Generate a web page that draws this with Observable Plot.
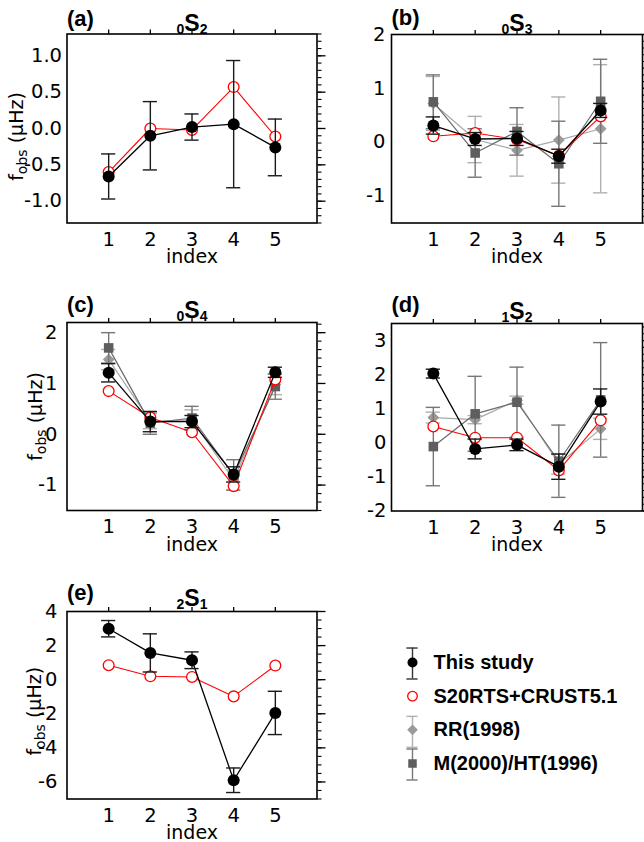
<!DOCTYPE html>
<html><head><meta charset="utf-8">
<script src="https://cdn.jsdelivr.net/npm/d3@7"></script>
<script src="https://cdn.jsdelivr.net/npm/@observablehq/plot@0.6"></script>
<style>
body{margin:0;background:#fff;}
#wrap{position:relative;width:644px;height:842px;overflow:hidden;background:#fff;}
#wrap svg{position:absolute;overflow:visible;background:transparent;}
</style></head><body><div id="wrap"></div>
<script>
// ---------- data ----------
const indexTicks = [1, 2, 3, 4, 5];
const seriesNames = ["This study", "S20RTS+CRUST5.1", "RR(1998)", "M(2000)/HT(1996)"];

// (a) 0S2
const aThis = [-0.66, -0.10, 0.02, 0.06, -0.26];
const aThisErr = [0.31, 0.47, 0.18, 0.875, 0.39];
const aS20 = [-0.60, 0.00, -0.02, 0.57, -0.11];
const aYTicks = [-1, -0.5, 0, 0.5, 1];

// (b) 0S3
const bThis = [0.31, 0.06, 0.07, -0.26, 0.59];
const bThisErr = [0.16, 0.12, 0.13, 0.13, 0.13];
const bS20 = [0.11, 0.17, 0.05, -0.25, 0.48];
const bRR = [0.72, 0.05, -0.15, 0.04, 0.25];
const bRRErr = [0.50, 0.43, 0.48, 0.80, 1.19];
const bM = [0.75, -0.20, 0.20, -0.40, 0.76];
const bMErr = [0.50, 0.45, 0.44, 0.79, 0.78];
const bYTicks = [-1, 0, 1, 2];

// (c) 0S4
const cThis = [1.21, 0.25, 0.25, -0.79, 1.22];
const cThisErr = [0.18, 0.20, 0.12, 0.15, 0.10];
const cS20 = [0.85, 0.33, 0.04, -1.02, 1.08];
const cRR = [1.47, 0.26, 0.28, -0.90, 0.98];
const cRRErr = [0.20, 0.15, 0.20, 0.20, 0.20];
const cM = [1.70, 0.22, 0.32, -0.80, 0.94];
const cMErr = [0.30, 0.22, 0.23, 0.30, 0.25];
const cYTicks = [-1, 0, 1, 2];

// (d) 1S2
const dThis = [2.03, -0.18, -0.06, -0.70, 1.21];
const dThisErr = [0.13, 0.29, 0.17, 0.37, 0.37];
const dS20 = [0.48, 0.15, 0.15, -0.81, 0.66];
const dRR = [0.74, 0.68, 1.25, -0.62, 0.41];
const dRRErr = [0.16, 0.12, 0.12, 0.30, 0.31];
const dM = [-0.11, 0.85, 1.19, -0.54, 1.26];
const dMErr = [1.15, 1.10, 1.03, 1.06, 1.68];
const dYTicks = [-2, -1, 0, 1, 2, 3];

// (e) 2S1
const eThis = [2.99, 1.57, 1.14, -5.90, -1.95];
const eThisErr = [0.48, 1.12, 0.49, 0.72, 1.27];
const eS20 = [0.85, 0.20, 0.16, -0.98, 0.83];
const eYTicks = [-6, -4, -2, 0, 2, 4];

// ---------- styles ----------
const ST = {
  this: {line: "#000", lw: 1.3, bar: "#1a1a1a", symbol: "circle", r: 6, fill: "#000"},
  s20:  {line: "#f00", lw: 1.1, symbol: "circle", r: 5.4, fill: "#fff", stroke: "#f00", sw: 1.3},
  rr:   {line: "#a8a8a8", lw: 1.2, bar: "#b0b0b0", symbol: "diamond2", r: 5.3, fill: "#9a9a9a"},
  m:    {line: "#6a6a6a", lw: 1.2, bar: "#777", symbol: "square", r: 5.4, fill: "#5e5e5e"}
};

const W = 322, H = 289;
const FONT_REG = "'DejaVu Sans', sans-serif";
const FONT_BOLD = "'Liberation Sans', Arial, sans-serif";
const intFmt = d => String(d);
const panels = [
  {label: "(a)", title: ["0", "S", "2"], left: 0, top: 0, frame: [66.5, 33.5, 316.5, 222.5],
   yDomain: [-1.3, 1.3], yTicks: aYTicks, yMinor: d3.range(-13, 14).map(v => v / 10), fmt: d => d.toFixed(1), pad: 5,
   ylab: {dx: -50, dy: 8}, lab: -8.5, tit: -3.5,
   series: [["s20", aS20], ["this", aThis, aThisErr]]},
  {label: "(b)", title: ["0", "S", "3"], left: 322, top: 0, frame: [391, 34, 642, 222.5],
   yDomain: [-1.5, 2], yTicks: bYTicks, yMinor: d3.range(-12, 17).map(v => v / 8), fmt: intFmt, pad: 6,
   ylab: null, lab: -10, tit: -4,
   series: [["rr", bRR, bRRErr], ["m", bM, bMErr], ["s20", bS20], ["this", bThis, bThisErr]]},
  {label: "(c)", title: ["0", "S", "4"], left: 0, top: 289, frame: [66.5, 322, 316.5, 510],
   yDomain: [-1.5, 2.2], yTicks: cYTicks, yMinor: d3.range(-9, 14).map(v => v / 6), fmt: intFmt, pad: 9.5,
   ylab: {dx: -31.5, dy: 0}, lab: -11, tit: -5,
   series: [["rr", cRR, cRRErr], ["m", cM, cMErr], ["s20", cS20], ["this", cThis, cThisErr]]},
  {label: "(d)", title: ["1", "S", "2"], left: 322, top: 289, frame: [391, 323, 642, 510.5],
   yDomain: [-2, 3.5], yTicks: dYTicks, yMinor: d3.range(-10, 18).map(v => v / 5), fmt: intFmt, pad: 5,
   ylab: null, lab: -12, tit: -5,
   series: [["rr", dRR, dRRErr], ["m", dM, dMErr], ["s20", dS20], ["this", dThis, dThisErr]]},
  {label: "(e)", title: ["2", "S", "1"], left: 0, top: 578, frame: [66.5, 611, 316.5, 798.5],
   yDomain: [-7, 4], yTicks: eYTicks, yMinor: d3.range(-14, 9).map(v => v / 2), fmt: intFmt, pad: 9.5,
   ylab: {dx: -32, dy: 6}, lab: -12, tit: -6,
   series: [["s20", eS20], ["this", eThis, eThisErr]]}
];

function seriesMarks(key, vals, errs) {
  const st = ST[key];
  const d = indexTicks.map((x, k) => ({x, y: vals[k], e: errs ? errs[k] : 0}));
  const m = [];
  m.push(Plot.line(d, {x: "x", y: "y", stroke: st.line, strokeWidth: st.lw}));
  if (errs) {
    m.push(Plot.ruleX(d, {x: "x", y1: r => r.y - r.e, y2: r => r.y + r.e, stroke: st.bar, strokeWidth: 1.4}));
    m.push(Plot.ruleY(d, {y: r => r.y - r.e, x1: r => r.x - 0.17, x2: r => r.x + 0.17, stroke: st.bar, strokeWidth: 1.4}));
    m.push(Plot.ruleY(d, {y: r => r.y + r.e, x1: r => r.x - 0.17, x2: r => r.x + 0.17, stroke: st.bar, strokeWidth: 1.4}));
  }
  const dopt = {x: "x", y: "y", symbol: st.symbol, r: st.r, fill: st.fill};
  if (st.stroke) { dopt.stroke = st.stroke; dopt.strokeWidth = st.sw; }
  m.push(Plot.dot(d, dopt));
  return m;
}

function setFont(sel, family, size, weight) {
  sel.style("font-family", family).style("font-size", size + "px").style("font-weight", weight || "normal");
}

const wrap = document.getElementById("wrap");
const YLAB = "fobs (µHz)";

for (const p of panels) {
  const [fx0, fy0, fx1, fy1] = p.frame;
  const marks = [];
  for (const [key, vals, errs] of p.series) marks.push(...seriesMarks(key, vals, errs));
  marks.push(Plot.frame({stroke: "#000", strokeWidth: 1.6}));
  marks.push(Plot.axisY(p.yMinor, {anchor: "right", tickSize: 4, tickFormat: () => "", label: null, strokeWidth: 1.1}));
  marks.push(Plot.axisY(p.yTicks, {anchor: "right", tickSize: 8, tickFormat: () => "", label: null, strokeWidth: 1.3}));
  marks.push(Plot.axisY(p.yTicks, {anchor: "left", tickSize: 0, tickPadding: p.pad, tickFormat: p.fmt, label: null}));
  marks.push(Plot.axisX(indexTicks, {anchor: "top", tickSize: 5, tickFormat: () => "", label: null, strokeWidth: 1.3}));
  marks.push(Plot.axisX(indexTicks, {anchor: "bottom", tickSize: 0, tickPadding: 9, label: null}));
  marks.push(Plot.text(["index"], {frameAnchor: "bottom", textAnchor: "middle", lineAnchor: "bottom", dy: 40}));
  marks.push(Plot.text([p.label], {frameAnchor: "top-left", textAnchor: "start", lineAnchor: "bottom", dy: p.lab}));
  marks.push(Plot.text([p.title.join("")], {frameAnchor: "top", textAnchor: "middle", lineAnchor: "bottom", dy: p.tit}));
  if (p.ylab) marks.push(Plot.text([YLAB], {frameAnchor: "left", textAnchor: "middle", lineAnchor: "middle", rotate: -90,
    dx: p.ylab.dx, dy: p.ylab.dy}));

  const svg = Plot.plot({
    width: W, height: H,
    marginLeft: fx0 - p.left, marginRight: p.left + W - fx1,
    marginTop: fy0 - p.top, marginBottom: p.top + H - fy1,
    x: {domain: [0, 6], label: null},
    y: {domain: p.yDomain, label: null},
    style: {background: "transparent", overflow: "visible"},
    marks
  });
  svg.style.position = "absolute";
  svg.style.left = p.left + "px";
  svg.style.top = p.top + "px";
  wrap.appendChild(svg);

  // fonts and subscripts, applied as inline styles
  d3.select(svg).selectAll("text").each(function () {
    const t = d3.select(this);
    const s = this.textContent;
    if (s === p.title.join("")) {
      setFont(t, FONT_BOLD, 23, "bold");
      t.text(null);
      t.append("tspan").style("font-size", "14px").attr("dy", 3).text(p.title[0]);
      t.append("tspan").attr("dy", -3).text(p.title[1]);
      t.append("tspan").style("font-size", "14px").attr("dy", 3).text(p.title[2]);
    } else if (s === YLAB) {
      setFont(t, FONT_REG, 19);
      t.text(null);
      t.append("tspan").text("f");
      t.append("tspan").style("font-size", "14px").attr("dy", 4).text("obs");
      t.append("tspan").attr("dy", -4).text(" (µHz)");
    } else if (s === p.label) {
      setFont(t, FONT_BOLD, 22, "bold");
    } else if (s === "index") {
      setFont(t, FONT_REG, 19);
    } else {
      setFont(t, FONT_REG, 19.5);
    }
  });
}

// ---------- legend ----------
const legendKeys = ["this", "s20", "rr", "m"];
const legendHasErr = [true, false, true, true];
const legendRows = seriesNames.map((name, i) => ({i, name, key: legendKeys[i], err: legendHasErr[i]}));
const legMarks = [];
for (const row of legendRows) {
  const st = ST[row.key];
  const d = [row];
  if (row.err) {
    const c = row.key === "this" ? "#333" : st.bar;
    const yc = row.key === "rr" ? 0.06 : 0.03;
    legMarks.push(Plot.ruleX(d, {x: () => 0, y1: r => r.i + yc - 0.46, y2: r => r.i + yc + 0.46, stroke: c, strokeWidth: 1.4}));
    legMarks.push(Plot.ruleY(d, {y: r => r.i + yc - 0.46, x1: () => -0.028, x2: () => 0.028, stroke: c, strokeWidth: 1.4}));
    legMarks.push(Plot.ruleY(d, {y: r => r.i + yc + 0.46, x1: () => -0.028, x2: () => 0.028, stroke: c, strokeWidth: 1.4}));
  }
  const dopt = {x: () => 0, y: "i", symbol: st.symbol, r: row.key === "this" ? 5 : 4.8, fill: st.fill};
  if (st.stroke) { dopt.stroke = st.stroke; dopt.strokeWidth = 1.3; }
  legMarks.push(Plot.dot(d, dopt));
}
legMarks.push(Plot.text(legendRows, {x: () => 0, y: "i", text: "name", dx: 21, textAnchor: "start", lineAnchor: "middle"}));
const leg = Plot.plot({
  width: 264, height: 170, margin: 0,
  x: {domain: [0, 1], range: [32, 232], axis: null},
  y: {domain: [0, 3], range: [32, 133], axis: null},
  style: {background: "transparent", overflow: "visible"},
  marks: legMarks
});
leg.style.position = "absolute";
leg.style.left = "380px";
leg.style.top = "630px";
wrap.appendChild(leg);
d3.select(leg).selectAll("text").each(function () { setFont(d3.select(this), FONT_BOLD, 20, "bold"); });
</script></body></html>
